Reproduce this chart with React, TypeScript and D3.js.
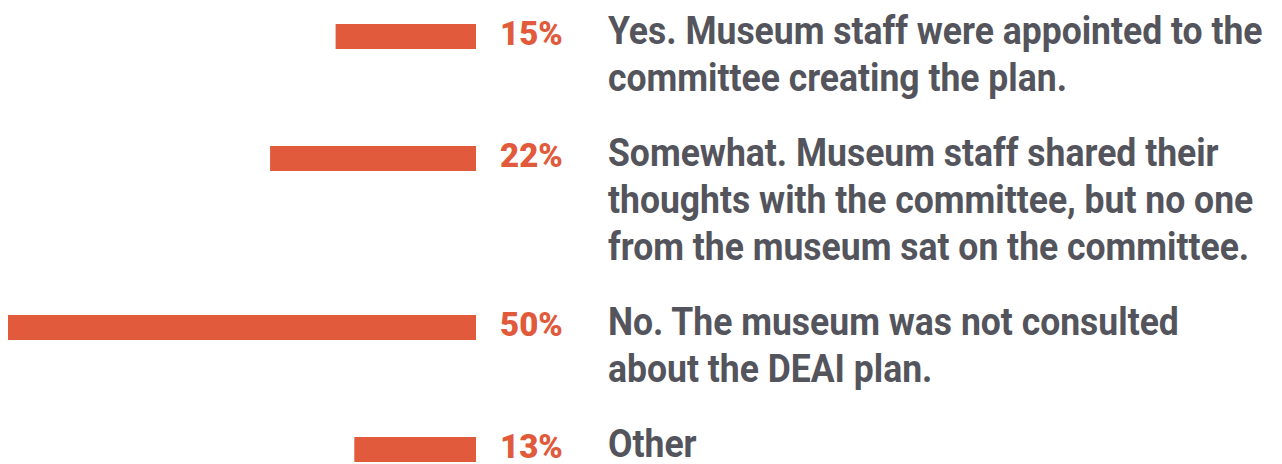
import React from "react";
import * as d3 from "d3";

const categories: string[][] = [
  ["Yes. Museum staff were appointed to the", "committee creating the plan."],
  ["Somewhat. Museum staff shared their", "thoughts with the committee, but no one", "from the museum sat on the committee."],
  ["No. The museum was not consulted", "about the DEAI plan."],
  ["Other"],
];
const values: number[] = [15, 22, 50, 13];
const valueLabels: string[] = ["15%", "22%", "50%", "13%"];

const W = 1274;
const H = 456;
const barRight = 468;
const barH = 25;
const lineH = 47;
const rowGap = 28;
const firstTop = 16;

export default function App() {
  const x = d3.scaleLinear().domain([0, 50]).range([0, 468]);
  const tops: number[] = [];
  let acc = firstTop;
  categories.forEach((c) => {
    tops.push(acc);
    acc += c.length * lineH + rowGap;
  });
  return (
    <svg width={W} height={H} style={{ display: "block" }}>
      {values.map((v, i) => {
        const t = tops[i];
        return (
          <g key={i}>
            <rect x={barRight - x(v)} y={t} width={x(v)} height={barH} fill="#E05A3B" />
            <text x={492} y={t + 21} fill="#E05A3B" fontFamily="Roboto" fontWeight={900} fontSize={33}>
              {valueLabels[i]}
            </text>
            <g transform={`translate(600,${t + 20}) scale(0.935,1)`}>
              <text fill="#53545C" fontFamily="Roboto" fontWeight={700} fontSize={38}>
                {categories[i].map((l, j) => (
                  <tspan key={j} x={0} y={j * lineH}>{l}</tspan>
                ))}
              </text>
            </g>
          </g>
        );
      })}
    </svg>
  );
}
